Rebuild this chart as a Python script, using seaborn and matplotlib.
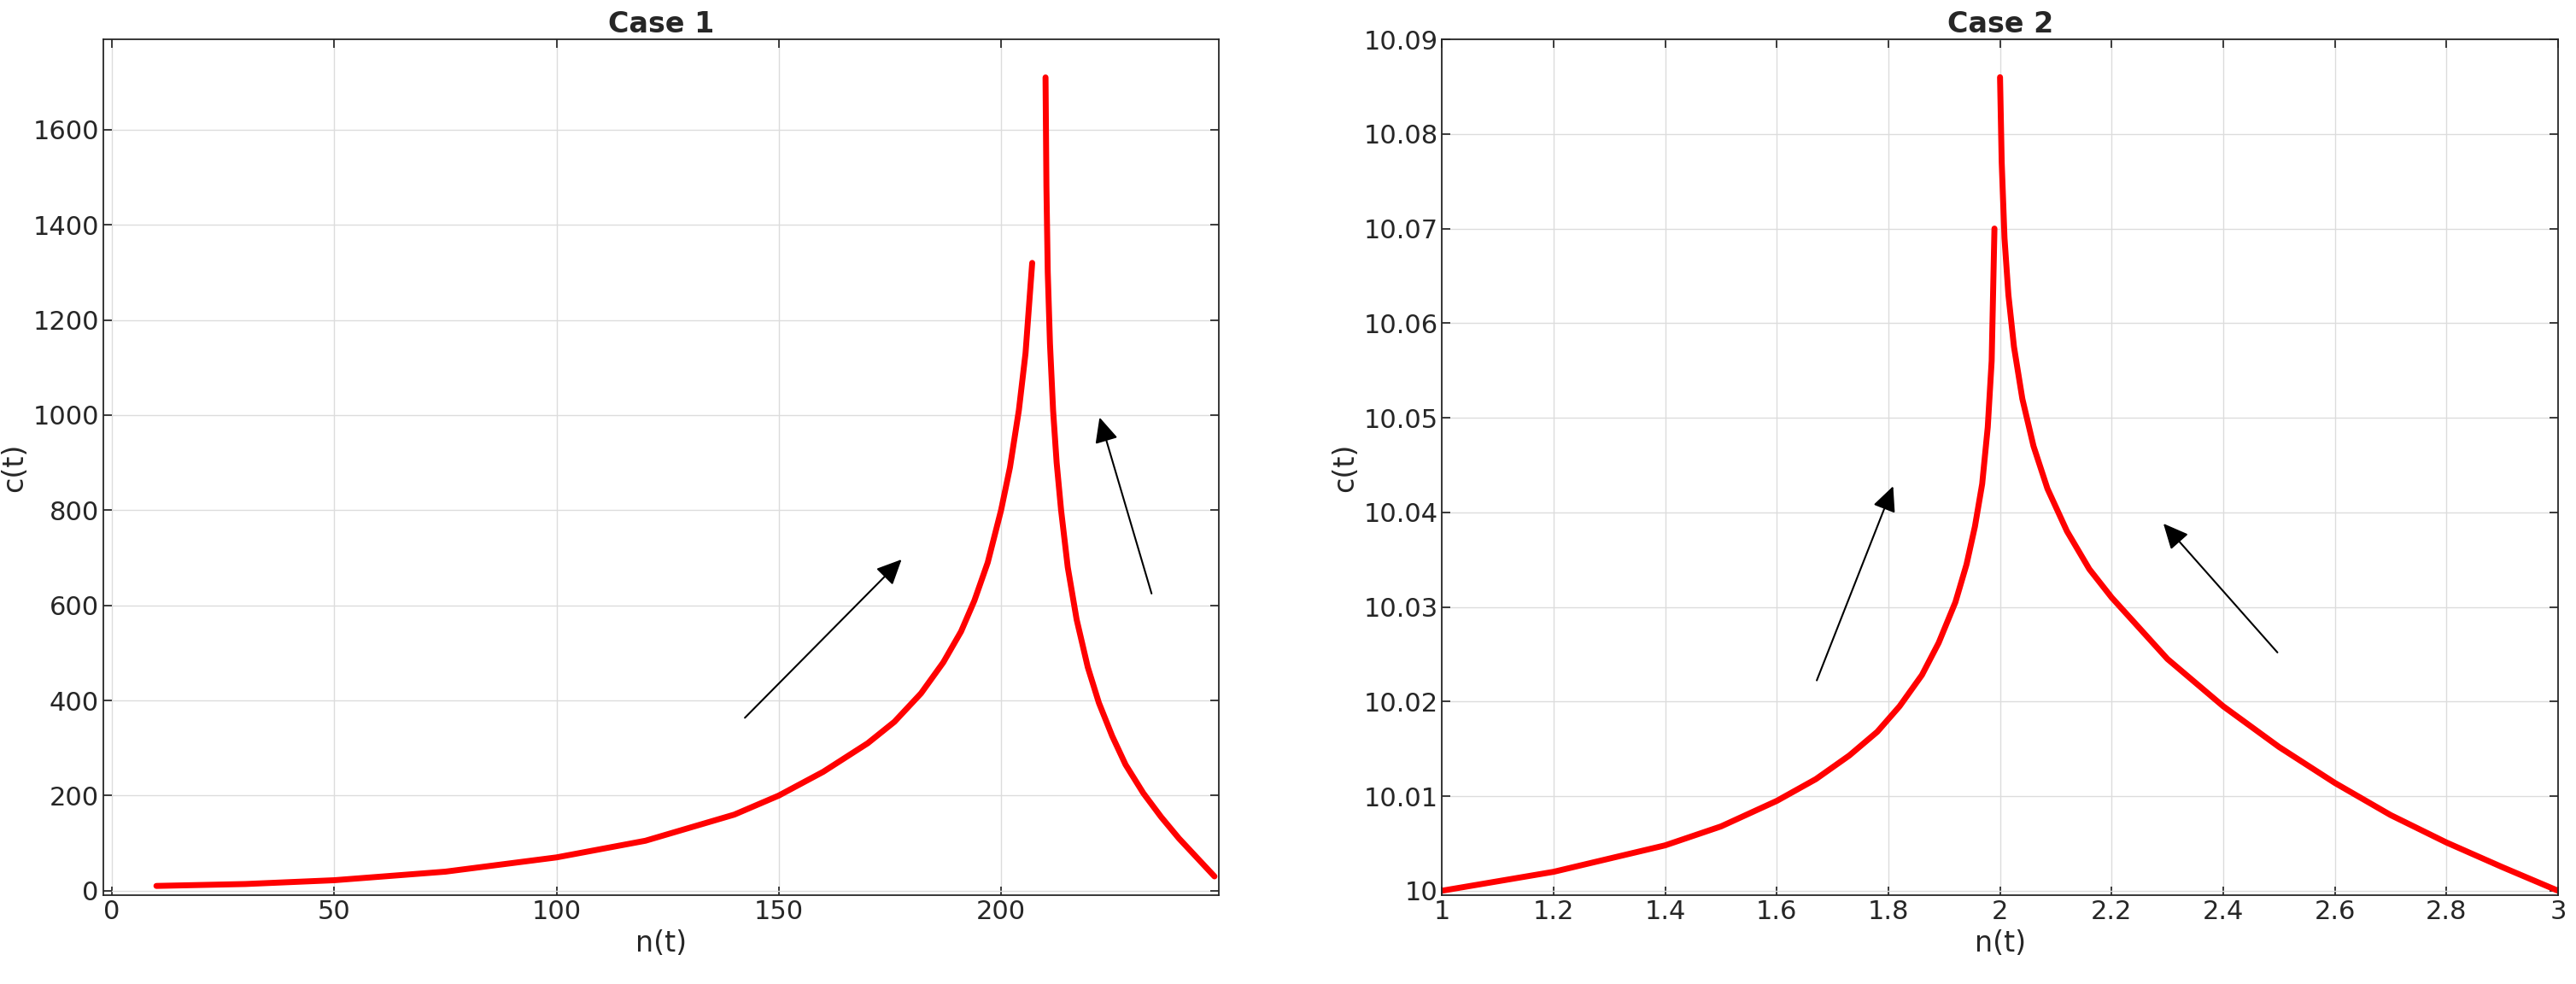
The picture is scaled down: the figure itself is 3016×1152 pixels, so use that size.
import matplotlib
matplotlib.use("Agg")
import matplotlib.pyplot as plt
import seaborn as sns
import pandas as pd

# Case 1 branches
n1_left = [10, 30, 50, 75, 100, 120, 140, 150, 160, 170, 176, 182, 187, 191, 194, 197, 200, 202, 204, 205.5, 207]
c1_left = [10, 14, 22, 40, 70, 105, 160, 200, 250, 310, 355, 415, 480, 545, 610, 690, 800, 890, 1010, 1130, 1320]
n1_right = [210, 210.2, 210.5, 211, 211.7, 212.5, 213.5, 215, 217, 219.5, 222, 225, 228, 232, 236, 240, 244, 248]
c1_right = [1710, 1480, 1300, 1150, 1010, 900, 800, 680, 570, 470, 395, 325, 265, 205, 155, 110, 70, 30]

# Case 2 branches
n2_left = [1.0, 1.2, 1.4, 1.5, 1.6, 1.67, 1.73, 1.78, 1.82, 1.86, 1.89, 1.92, 1.94, 1.955, 1.968, 1.978, 1.985, 1.99]
c2_left = [10.0, 10.002, 10.0048, 10.0068, 10.0095, 10.0118, 10.0143, 10.0168, 10.0195, 10.0228, 10.0262, 10.0305, 10.0345, 10.0385, 10.043, 10.049, 10.056, 10.070]
n2_right = [2.0, 2.003, 2.008, 2.015, 2.025, 2.04, 2.06, 2.085, 2.12, 2.16, 2.2, 2.3, 2.4, 2.5, 2.6, 2.7, 2.8, 2.9, 3.0]
c2_right = [10.086, 10.077, 10.069, 10.063, 10.0575, 10.052, 10.047, 10.0425, 10.038, 10.034, 10.031, 10.0245, 10.0195, 10.0152, 10.0114, 10.008, 10.0051, 10.0025, 10.0]

sns.set_theme(style="whitegrid")
plt.rcParams['font.family'] = ['DejaVu Sans']

fig, axes = plt.subplots(1, 2, figsize=(30.16, 11.52), dpi=100)
fig.subplots_adjust(left=0.04, right=0.993, top=0.96, bottom=0.09, wspace=0.2)

def draw(ax, nl, cl, nr, cr):
    for n, c in ((nl, cl), (nr, cr)):
        df = pd.DataFrame({"n": n, "c": c})
        sns.lineplot(data=df, x="n", y="c", ax=ax, color="red", linewidth=5, sort=False)
    for s in ax.spines.values():
        s.set_visible(True); s.set_color("#262626"); s.set_linewidth(1.3)
    ax.grid(True, color="#dcdcdc", linewidth=1)
    ax.tick_params(labelsize=22, direction="in", length=7, left=True, bottom=True, top=True, right=True,
                   labeltop=False, labelright=False, colors="#262626")
    ax.set_xlabel("n(t)", fontsize=24, labelpad=4)
    ax.set_ylabel("c(t)", fontsize=24)

ax = axes[0]
draw(ax, n1_left, c1_left, n1_right, c1_right)
ax.set_xlim(-2, 249); ax.set_ylim(-10, 1790)
ax.set_xticks([0, 50, 100, 150, 200]); ax.set_yticks(range(0, 1601, 200))
ax.set_title("Case 1", fontsize=24, fontweight="bold")
arr = dict(arrowstyle="-|>,head_width=0.7,head_length=1.5", color="black", lw=1.5)
ax.annotate("", xy=(178, 700), xytext=(142, 360), arrowprops=arr)
ax.annotate("", xy=(222, 1000), xytext=(234, 620), arrowprops=arr)

ax = axes[1]
draw(ax, n2_left, c2_left, n2_right, c2_right)
ax.set_xlim(1, 3); ax.set_ylim(9.9995, 10.09)
ax.set_xticks([1, 1.2, 1.4, 1.6, 1.8, 2, 2.2, 2.4, 2.6, 2.8, 3])
ax.set_xticklabels(["1", "1.2", "1.4", "1.6", "1.8", "2", "2.2", "2.4", "2.6", "2.8", "3"])
ax.set_yticks([10 + 0.01 * i for i in range(10)])
ax.set_yticklabels(["10"] + ["%.2f" % (10 + 0.01 * i) for i in range(1, 10)])
ax.set_title("Case 2", fontsize=24, fontweight="bold")
ax.annotate("", xy=(1.81, 10.043), xytext=(1.67, 10.022), arrowprops=arr)
ax.annotate("", xy=(2.29, 10.039), xytext=(2.5, 10.025), arrowprops=arr)

fig.savefig("out.png", dpi=100)
